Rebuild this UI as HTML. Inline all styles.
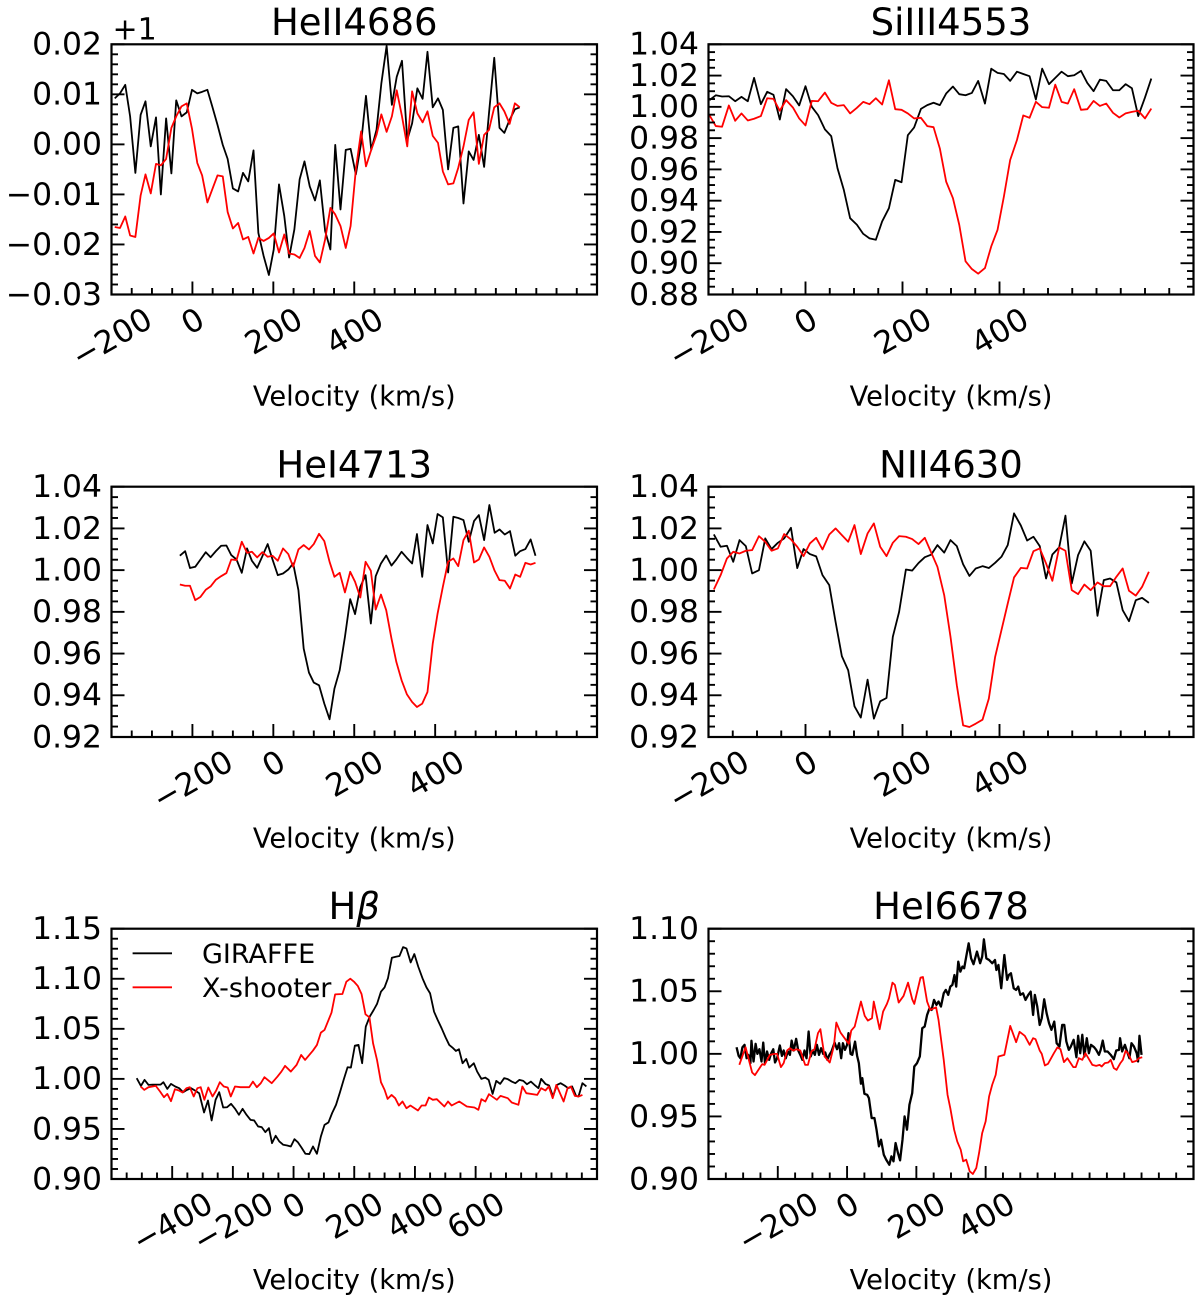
<!DOCTYPE html>
<html lang="en">
<head>
<meta charset="utf-8">
<title>Spectral line profiles</title>
<style>
html,body{margin:0;padding:0;background:#fff;}
svg{display:block;}
text{font-family:"DejaVu Sans","Liberation Sans",sans-serif;fill:#000;}
</style>
</head>
<body>
<svg id="figure" xmlns="http://www.w3.org/2000/svg" width="1200" height="1302" viewBox="0 0 1200 1302"></svg>
<script>
/* HeII 4686 : flux values are in thousandths, relative to the +1 axis offset */
const he2Velocity = [-192,-179,-166,-154,-141,-128,-116,-103,-90,-78,-65,-52,-40,-27,-14,-1,12,24,37,49,62,75,87,100,113,125,138,151,163,176,189,201,214,227,239,252,265,277,290,303,315,328,341,353,366,379,391,404,417,429,442,455,467,480,493,505,518,531,543,556,569,581,594,607,619,632,645,657,670,683,695,708,721,733,746,759,771,784,797,809];
const he2Giraffe = [9.2,10.2,11.9,5.6,-5.7,5.9,8.6,-0.4,5.4,-10.0,5.2,-5.8,8.8,5.6,6.4,10.9,10.2,10.5,10.9,7.6,3.9,-0.1,-2.9,-8.8,-9.4,-5.7,-7.4,-1.2,-17.7,-22.3,-26.1,-21.0,-8.0,-14.3,-22.6,-17.0,-7.0,-3.4,-8.4,-11.2,-7.2,-17.3,-21.0,-0.1,-13.0,-1.1,-0.9,-6.0,0.3,9.7,-1.1,2.9,12.2,19.7,7.9,13.5,16.7,0.9,4.2,11.2,9.1,18.5,7.4,9.2,6.9,-5.0,3.3,3.6,-11.8,-1.4,-3.1,1.9,-4.5,6.2,17.3,3.3,2.3,4.9,7.0,7.4];
const he2Xshooter = [-16.5,-16.7,-14.4,-18.2,-18.5,-10.2,-6.0,-9.8,-3.9,-4.2,-2.9,3.3,5.6,7.6,8.2,3.1,-3.7,-6.2,-11.6,-9.0,-6.2,-6.4,-13.5,-16.8,-15.7,-19.0,-18.5,-21.8,-18.7,-19.3,-18.7,-17.8,-21.6,-18.0,-21.8,-22.0,-22.7,-20.7,-17.3,-22.3,-23.6,-19.0,-12.7,-14.0,-16.3,-20.7,-16.3,-5.0,2.6,-4.4,-1.1,1.9,6.0,2.5,5.6,10.8,5.6,-0.4,10.6,6.2,4.4,6.6,1.7,0.3,-5.4,-8.0,-7.8,-4.7,-0.4,4.9,6.4,-3.9,1.9,2.9,7.4,8.2,6.6,4.1,8.2,7.4];
const he2YTicks = [-0.03,-0.02,-0.01,0,0.01,0.02];
const he2XTicks = [-200,0,200,400];

/* SiIII 4553 */
const si3Velocity = [-198,-185,-172,-158,-145,-132,-119,-106,-92,-79,-66,-53,-40,-26,-13,0,13,26,40,53,66,79,92,106,119,132,145,158,172,185,198,211,224,238,251,264,277,290,304,317,330,343,356,370,383,396,409,422,436,449,462,475,488,502,515,528,541,554,568,581,594,607,620,634,647,660,673,686,700,713];
const si3Giraffe = [1.0043,1.0074,1.0066,1.0068,1.0036,1.0064,1.0036,1.0185,1.0017,1.0096,1.0077,0.9919,1.0113,1.0068,1.0009,1.0132,1.0,0.9947,0.9856,0.9813,0.9607,0.9469,0.9288,0.9246,0.9188,0.9159,0.915,0.9267,0.9352,0.9533,0.9518,0.9819,0.9868,0.9987,1.0011,1.0026,1.0011,1.0085,1.013,1.0081,1.0074,1.0089,1.0166,1.0021,1.0244,1.0217,1.021,1.0166,1.0225,1.021,1.0196,1.0047,1.0244,1.0145,1.0185,1.0225,1.0196,1.0202,1.023,1.0153,1.01,1.0174,1.0166,1.0106,1.0106,1.0145,1.0119,0.9941,1.006,1.0181];
const si3Xshooter = [0.9947,0.9877,0.9873,1.0009,0.9911,0.9958,0.9913,0.9924,0.9941,1.0055,1.0051,0.9975,1.0043,0.9996,0.9926,0.9881,1.0038,1.0036,1.0091,1.0026,1.0006,1.0011,0.9958,0.9994,1.0032,1.0017,1.0055,1.0015,1.017,0.9985,0.9981,0.9958,0.9926,0.993,0.9877,0.987,0.9734,0.9522,0.9416,0.9246,0.9012,0.8963,0.8933,0.8969,0.9108,0.9214,0.9426,0.966,0.9788,0.9945,0.993,1.0032,0.9998,0.9994,1.0142,1.0032,1.0021,1.0113,0.9981,0.9985,1.0038,1.0006,1.0021,0.9962,0.9932,0.9958,0.9968,0.9975,0.9926,0.9989];
const si3YTicks = [0.88,0.90,0.92,0.94,0.96,0.98,1.00,1.02,1.04];
const si3XTicks = [-200,0,200,400];

/* HeI 4713 */
const he4713Velocity = [-231,-218,-206,-193,-180,-167,-155,-142,-129,-116,-104,-91,-78,-65,-53,-40,-27,-14,-2,11,24,37,49,62,75,88,100,113,126,139,151,164,177,190,202,215,228,241,253,266,279,292,304,317,330,343,355,368,381,394,406,419,432,445,457,470,483,496,508,521,534,547,559,572,585,598,610,623,636,648];
const he4713Giraffe = [1.0069,1.0091,1.001,1.0016,1.0051,1.0086,1.0062,1.0091,1.0117,1.0118,1.0072,1.0051,0.9987,1.0104,1.0045,1.0011,1.0067,1.0125,1.0051,0.9976,0.9984,1.0003,1.0032,0.9904,0.9624,0.9509,0.9461,0.9448,0.936,0.9285,0.9432,0.952,0.968,0.9861,0.9789,0.992,0.9976,0.9744,0.9971,1.0032,1.007,1.0022,1.0051,1.0088,1.0059,1.0032,1.0173,0.9968,1.0216,1.0128,1.0269,1.0253,0.9989,1.0256,1.025,1.024,1.0136,1.0235,1.0264,1.0144,1.0312,1.0179,1.0195,1.0171,1.0187,1.0069,1.0091,1.0101,1.0147,1.0069];
const he4713Xshooter = [0.9931,0.9925,0.9925,0.9856,0.9872,0.9906,0.9922,0.9954,0.9971,0.9986,1.0051,1.0048,1.0136,1.0083,1.0088,1.0061,1.0086,1.0064,1.0069,1.0045,1.0104,1.0077,1.0016,1.0099,1.012,1.0099,1.0125,1.0174,1.0139,1.004,0.9968,0.9987,0.9893,0.9992,0.9944,0.9869,1.004,0.9997,0.9811,0.9883,0.9808,0.9672,0.956,0.9472,0.9405,0.9368,0.9344,0.936,0.9416,0.9648,0.9792,0.992,1.004,1.0056,1.0019,1.0144,1.0189,1.0037,1.0051,1.0109,1.0064,0.9997,0.9952,0.9949,0.9912,0.9979,0.9968,1.0035,1.0027,1.0035];
const he4713YTicks = [0.92,0.94,0.96,0.98,1.00,1.02,1.04];
const he4713XTicks = [-200,0,200,400];

/* NII 4630 */
const n2Velocity = [-189,-175,-162,-149,-136,-123,-110,-96,-83,-70,-57,-44,-30,-17,-4,9,22,35,49,62,75,88,101,114,128,141,154,167,180,193,207,220,233,246,259,272,286,299,312,325,338,351,365,378,391,404,417,430,444,457,470,483,496,509,523,536,549,562,575,588,602,615,628,641,654,667,681,694,708];
const n2Giraffe = [1.0171,1.0112,1.0117,1.004,1.0144,1.0115,0.9984,1.0,1.0152,1.0101,1.0131,1.0152,1.0203,1.001,1.0101,1.0077,1.0066,0.9976,0.9928,0.9752,0.9587,0.952,0.9347,0.9293,0.9475,0.9288,0.9371,0.9387,0.968,0.98,1.0003,0.9998,1.0034,1.0062,1.0074,1.012,1.0084,1.0144,1.0115,1.0028,0.9972,1.0008,1.0019,1.0010,1.0035,1.0064,1.012,1.0272,1.0214,1.0142,1.016,1.0115,0.996,1.0075,1.0109,1.0261,0.9936,1.0072,1.0138,1.0093,0.9781,0.9952,0.996,0.9941,0.9808,0.9755,0.9856,0.9867,0.9843];
const n2Xshooter = [0.9907,0.9976,1.0056,1.0088,1.008,1.0093,1.0096,1.0163,1.0136,1.0093,1.0104,1.0173,1.0147,1.0112,1.0067,1.0128,1.0155,1.0099,1.0171,1.02,1.0168,1.0136,1.0216,1.0077,1.0176,1.0224,1.0112,1.0067,1.0131,1.0163,1.016,1.0149,1.0125,1.0155,1.0085,1.0016,0.988,0.968,0.9448,0.9256,0.9248,0.9264,0.9283,0.9384,0.9584,0.9712,0.984,0.9965,1.0011,1.0008,1.0091,1.0104,1.0032,0.9949,1.0109,1.0093,0.9904,0.9885,0.9931,0.9904,0.9941,0.9923,0.9923,0.9968,1.0008,0.9901,0.9878,0.992,0.9992];
const n2YTicks = [0.92,0.94,0.96,0.98,1.00,1.02,1.04];
const n2XTicks = [-200,0,200,400];

/* H beta */
const hbGiraffeVelocity = [-517,-503,-491,-478,-464,-450,-438,-429,-416,-404,-390,-377,-364,-351,-338,-325,-311,-295,-282,-270,-257,-245,-232,-219,-206,-192,-180,-168,-155,-142,-130,-117,-105,-93,-81,-71,-59,-47,-34,-21,-9,3,14,26,39,52,64,77,90,102,115,127,140,153,165,178,189,202,214,226,238,251,264,275,288,300,311,324,337,349,361,372,386,398,411,425,438,450,463,475,488,501,513,526,535,545,557,569,579,594,605,619,632,643,656,668,681,694,706,719,731,744,757,769,782,794,807,816,830,842,855,868,880,893,905,918,931,939,952,965];
const hbGiraffe = [1.0007,0.993,0.999,0.994,0.9943,0.9943,0.9943,0.9967,0.99,0.995,0.9924,0.9907,0.9867,0.989,0.9907,0.9884,0.9857,0.9664,0.9784,0.9585,0.9791,0.9867,0.9714,0.9717,0.9751,0.9698,0.9641,0.9701,0.9641,0.9591,0.9585,0.9525,0.9518,0.9468,0.9508,0.9358,0.9432,0.9375,0.9342,0.9335,0.9325,0.9398,0.9368,0.9315,0.9252,0.9249,0.9325,0.9252,0.9425,0.9541,0.9565,0.9658,0.9741,0.9867,0.999,1.0116,1.0113,1.0332,1.0339,1.0156,1.0522,1.0622,1.0688,1.0748,1.0871,1.0914,1.1004,1.121,1.122,1.1227,1.1316,1.1303,1.1163,1.1247,1.112,1.1004,1.0914,1.0854,1.0671,1.0588,1.0505,1.0415,1.0339,1.0306,1.0279,1.0296,1.0156,1.0199,1.0113,1.0156,1.0073,1.0,1.0013,0.999,0.985,0.998,0.995,1.0007,0.9997,0.9973,0.9957,0.999,0.998,0.9947,0.9973,0.994,0.9907,1.0,0.995,0.9934,0.9824,0.994,0.9957,0.9934,0.9907,0.9924,0.983,0.9824,0.9957,0.9924];
const hbXshooterVelocity = [-504,-492,-478,-454,-440,-427,-416,-404,-391,-378,-366,-353,-342,-329,-317,-306,-294,-281,-267,-255,-243,-230,-217,-207,-193,-175,-146,-134,-121,-108,-96,-72,-53,-40,-28,-9,10,25,38,64,77,90,102,125,137,161,174,187,199,212,224,237,250,262,275,288,300,310,323,335,347,359,372,385,410,422,435,446,459,472,497,509,521,546,571,596,609,619,632,644,670,682,706,719,741,754,767,803,816,830,841,854,866,890,903,914,927,939,952];
const hbXshooter = [0.9924,0.989,0.9917,0.993,0.9874,0.9817,0.985,0.9777,0.9897,0.9884,0.9864,0.9907,0.9917,0.9824,0.9907,0.9917,0.9791,0.9914,0.9824,0.9884,0.9967,0.9924,0.9914,0.9824,0.9924,0.9917,0.9917,0.9973,0.9917,0.9957,1.0017,0.9957,1.0023,1.0073,1.013,1.0073,1.014,1.0239,1.0189,1.0283,1.0339,1.0462,1.0489,1.0661,1.0844,1.0848,1.0971,1.1001,1.0971,1.0927,1.0848,1.0645,1.0615,1.0356,1.0189,0.9967,0.989,0.98,0.984,0.9807,0.9734,0.9774,0.9707,0.9734,0.9684,0.9734,0.9734,0.9814,0.9791,0.9797,0.9724,0.9774,0.9734,0.9774,0.9724,0.9714,0.9691,0.9797,0.9774,0.9847,0.9791,0.983,0.9807,0.9764,0.9741,0.9924,0.9857,0.984,0.9907,0.9884,0.9924,0.9807,0.994,0.9774,0.9907,0.9924,0.983,0.9824,0.984];
const hbYTicks = [0.90,0.95,1.00,1.05,1.10,1.15];
const hbXTicks = [-400,-200,0,200,400,600];

/* HeI 6678 */
const he6678GiraffeVelocity = [-319,-313,-308,-302,-296,-290,-285,-279,-276,-270,-264,-259,-253,-247,-242,-237,-231,-225,-219,-213,-208,-202,-194,-188,-183,-177,-171,-165,-160,-154,-147,-141,-135,-129,-123,-117,-111,-105,-99,-93,-87,-81,-75,-69,-63,-57,-51,-45,-36,-29,-23,-17,-12,-6,0,4,10,15,23,29,34,40,44,50,58,63,71,79,85,92,98,106,113,122,128,134,140,147,153,160,166,173,180,188,194,202,210,217,224,231,238,244,251,258,264,271,279,285,292,298,304,310,315,321,327,333,338,344,351,358,365,375,384,390,395,402,410,419,427,431,437,445,454,462,467,473,481,488,494,500,508,515,523,530,537,542,549,556,562,569,576,583,590,598,605,613,621,627,633,640,646,654,662,667,673,679,685,692,698,704,713,719,727,732,738,744,752,761,770,777,785,788,794,802,810,815,821,828,836,840,844,850];
const he6678Giraffe = [1.0053,0.9984,0.9965,1.0053,1.0072,0.9965,0.9992,0.9926,1.0104,0.9939,1.008,1.0,1.0037,0.9939,1.009,0.9926,1.0019,0.9952,1.0005,1.0037,0.9931,0.9965,1.0067,0.9984,1.0027,0.9965,1.0019,0.9992,1.0106,1.0027,1.012,1.0027,0.9992,0.9952,1.0027,0.9965,1.0178,0.9979,1.0027,0.9992,1.0072,0.9992,1.0045,1.0,1.0011,0.9952,0.9992,1.0019,1.009,1.0037,1.0085,0.9965,1.0085,1.0032,1.0072,1.0165,1.0,0.9992,1.0098,0.9984,0.9926,0.9761,0.9806,0.9681,0.9673,0.9646,0.9487,0.9487,0.9394,0.9261,0.9314,0.9194,0.9154,0.9114,0.9181,0.9141,0.9287,0.9207,0.9149,0.9314,0.95,0.9394,0.9593,0.9686,0.9899,0.9926,0.9979,1.0205,1.0218,1.0311,1.0364,1.0351,1.0431,1.0391,1.0418,1.0378,1.0484,1.0511,1.0471,1.0537,1.0551,1.063,1.0537,1.0737,1.0657,1.0697,1.0684,1.0777,1.0883,1.0763,1.0716,1.0817,1.0724,1.0777,1.0915,1.0763,1.075,1.0724,1.075,1.067,1.071,1.0524,1.079,1.0591,1.063,1.0644,1.0524,1.0511,1.0537,1.0471,1.0484,1.0431,1.0471,1.0497,1.0311,1.0471,1.0378,1.0231,1.0285,1.0436,1.0325,1.0245,1.0192,1.0258,1.0085,1.0059,1.0231,1.0231,1.0098,1.0032,1.0059,1.0112,0.9973,1.0144,1.0005,1.0152,0.9979,1.0125,1.0005,1.0072,1.0053,1.0032,0.9992,1.0032,1.0106,1.0019,1.0019,0.9992,0.9957,1.0027,1.0032,1.0125,1.0019,1.0072,1.0005,0.9965,1.0085,1.0059,1.0005,0.9939,1.0144,0.9992];
const he6678XshooterVelocity = [-311,-293,-274,-266,-245,-238,-223,-209,-202,-191,-183,-173,-165,-156,-146,-135,-121,-113,-103,-94,-84,-77,-65,-50,-38,-31,-19,-5,5,12,22,40,51,60,72,77,94,104,115,121,131,138,149,163,176,188,194,212,219,231,240,257,264,279,290,298,309,318,328,335,344,354,363,373,381,390,400,410,419,429,437,454,471,488,498,513,527,537,544,556,562,571,580,597,607,616,626,636,653,660,669,679,688,708,719,729,735,744,754,761,770,778,789,796,804,811,823,835,842,852];
const he6678Xshooter = [0.9912,1.0053,0.9851,0.983,0.9918,0.9912,0.9992,1.0,1.0,0.9894,0.9926,1.0027,1.0045,1.0027,1.0037,1.0027,0.9912,0.9912,1.0019,1.0037,1.0165,1.0197,0.9979,0.9931,1.0064,1.025,1.017,1.0117,1.008,1.0186,1.0218,1.0418,1.0303,1.0266,1.0285,1.0418,1.0197,1.0338,1.0399,1.0444,1.0569,1.0551,1.041,1.0463,1.0569,1.0436,1.0399,1.0609,1.0614,1.0418,1.0351,1.0372,1.0271,0.9952,0.9673,0.9566,0.9394,0.93,0.9234,0.9141,0.9154,0.9061,0.904,0.9088,0.9207,0.9367,0.946,0.966,0.9753,0.9832,0.9979,0.9992,1.0223,1.0093,1.0176,1.0144,1.0072,1.0125,1.0117,1.0027,1.0,0.9907,0.992,1.0005,1.0051,1.0037,0.9934,0.9965,0.9894,0.9894,0.9965,0.9952,1.0005,0.9912,0.9904,0.9912,0.9899,0.9926,0.9931,0.9952,0.9886,0.9872,0.9926,0.9952,1.0024,1.0005,0.9934,0.9944,0.9965,0.9973];
const he6678YTicks = [0.90,0.95,1.00,1.05,1.10];
const he6678XTicks = [-200,0,200,400];

const legendLabels = ['GIRAFFE','X-shooter'];
const xAxisTitle = 'Velocity (km/s)';

const NS = 'http://www.w3.org/2000/svg';
const figure = document.getElementById('figure');
const colLeft = [111.5, 708.5], colRight = [597, 1193.5];
const rowTop = [44.3, 486.7, 928.7], rowBottom = [294.5, 737, 1179];
const titleBase = [35, 477.7, 919], xlabelBase = [405.5, 847.5, 1289];
const tickFont = 31.4;

function make(tag, attrs, parent, text) {
  const el = document.createElementNS(NS, tag);
  for (const k in attrs) el.setAttribute(k, attrs[k]);
  if (text !== undefined) el.textContent = text;
  parent.appendChild(el);
  return el;
}
function fmtY(v) { return v.toFixed(2).replace('-', '\u2212'); }
function fmtX(v) { return String(v).replace('-', '\u2212'); }

function drawPanel(p) {
  const L = colLeft[p.col], R = colRight[p.col], T = rowTop[p.row], B = rowBottom[p.row];
  const xs = v => L + (v - p.xlim[0]) / (p.xlim[1] - p.xlim[0]) * (R - L);
  const ys = f => B - (f - p.ylim[0]) / (p.ylim[1] - p.ylim[0]) * (B - T);
  const g = make('g', {}, figure);
  
  

  /* series */
  p.series.forEach(s => {
    const n = Math.min(s.v.length, s.f.length);
    let d = '';
    for (let i = 0; i < n; i++) d += (i ? 'L' : 'M') + xs(s.v[i]).toFixed(2) + ' ' + ys(s.f[i] * p.unit).toFixed(2);
    const line = make('path', { d: d, fill: 'none', stroke: s.color, 'stroke-width': s.width || 1.8, 'stroke-linejoin': 'round' }, g);
    
    
  });

  /* x ticks */
  for (let v = p.xlim[0]; v <= p.xlim[1]; v += 50) {
    const major = p.xTicks.includes(v);
    const tick = make('line', { x1: xs(v), x2: xs(v), y1: B, y2: B - (major ? 13 : 6.5), stroke: '#000', 'stroke-width': 1.9 }, g);
    
    
  }
  p.xTicks.forEach(v => {
    const label = fmtX(v);
    const digits = label.replace('\u2212', '').length;
    const w = (digits * 0.636 + (v < 0 ? 0.838 : 0)) * tickFont;
    const cy = B + 11 + (w * 0.5 + 0.75 * tickFont * 0.866) / 2;
    const t = make('text', { transform: 'translate(' + xs(v) + ',' + cy + ') rotate(-30)', 'text-anchor': 'middle', dy: '0.36em', 'font-size': tickFont }, g, label);
    
    
  });

  /* y ticks */
  const ysteps = Math.round((p.ylim[1] - p.ylim[0]) / p.yMinor);
  for (let i = 0; i <= ysteps; i++) {
    const f = p.ylim[0] + i * p.yMinor;
    const major = p.yTicks.some(t => Math.abs(t - f) < p.yMinor / 4);
    const len = major ? 13 : 6.5;
    const tl = make('line', { x1: L, x2: L + len, y1: ys(f), y2: ys(f), stroke: '#000', 'stroke-width': 1.9 }, g);
    
    
    const tr = make('line', { x1: R, x2: R - len, y1: ys(f), y2: ys(f), stroke: '#000', 'stroke-width': 1.9 }, g);
    
    
  }
  p.yTicks.forEach(f => {
    const t = make('text', { x: L - 9.5, y: ys(f), dy: '0.33em', 'text-anchor': 'end', 'font-size': tickFont }, g, fmtY(f));
    
    
  });

  /* frame */
  const frame = make('rect', { x: L, y: T, width: R - L, height: B - T, fill: 'none', stroke: '#000', 'stroke-width': 2.2 }, g);
  
  

  /* title */
  const title = make('text', { x: (L + R) / 2, y: titleBase[p.row], 'text-anchor': 'middle', 'font-size': 37 }, g);
  
  
  title.appendChild(document.createTextNode(p.title));
  if (p.titleGreek) make('tspan', { 'font-style': 'italic' }, title, p.titleGreek);

  /* x label */
  const xl = make('text', { x: (L + R) / 2, y: xlabelBase[p.row], 'text-anchor': 'middle', 'font-size': 27.3 }, g, xAxisTitle);
  
  

  if (p.offsetText) {
    const off = make('text', { x: L + 1, y: T - 5, 'font-size': 30 }, g, p.offsetText);
    
    
  }
  if (p.legend) {
    const colors = p.series.map(s => s.color);
    const lineY = [953.3, 987.3], textY = [962.8, 997.2];
    legendLabels.forEach((label, i) => {
      const lg = make('line', { x1: 132.6, x2: 172, y1: lineY[i], y2: lineY[i], stroke: colors[i], 'stroke-width': 1.8 }, g);
      
      
      const lt = make('text', { x: 202, y: textY[i], 'font-size': 27 }, g, label);
      
      
    });
  }
}

drawPanel({ id: 'heii-4686', title: 'HeII4686', row: 0, col: 0, xlim: [-200, 1000], ylim: [-0.03, 0.02], unit: 0.001, yMinor: 0.002, xTicks: he2XTicks, yTicks: he2YTicks, offsetText: '+1',
  series: [{ name: 'giraffe', color: '#000', v: he2Velocity, f: he2Giraffe }, { name: 'x-shooter', color: '#f00', v: he2Velocity, f: he2Xshooter }] });
drawPanel({ id: 'siiii-4553', title: 'SiIII4553', row: 0, col: 1, xlim: [-200, 800], ylim: [0.88, 1.04], unit: 1, yMinor: 0.005, xTicks: si3XTicks, yTicks: si3YTicks,
  series: [{ name: 'giraffe', color: '#000', v: si3Velocity, f: si3Giraffe }, { name: 'x-shooter', color: '#f00', v: si3Velocity, f: si3Xshooter }] });
drawPanel({ id: 'hei-4713', title: 'HeI4713', row: 1, col: 0, xlim: [-400, 800], ylim: [0.92, 1.04], unit: 1, yMinor: 0.005, xTicks: he4713XTicks, yTicks: he4713YTicks,
  series: [{ name: 'giraffe', color: '#000', v: he4713Velocity, f: he4713Giraffe }, { name: 'x-shooter', color: '#f00', v: he4713Velocity, f: he4713Xshooter }] });
drawPanel({ id: 'nii-4630', title: 'NII4630', row: 1, col: 1, xlim: [-200, 800], ylim: [0.92, 1.04], unit: 1, yMinor: 0.005, xTicks: n2XTicks, yTicks: n2YTicks,
  series: [{ name: 'giraffe', color: '#000', v: n2Velocity, f: n2Giraffe }, { name: 'x-shooter', color: '#f00', v: n2Velocity, f: n2Xshooter }] });
drawPanel({ id: 'h-beta', title: 'H', titleGreek: '\u03B2', row: 2, col: 0, xlim: [-600, 1000], ylim: [0.90, 1.15], unit: 1, yMinor: 0.01, xTicks: hbXTicks, yTicks: hbYTicks, legend: true,
  series: [{ name: 'giraffe', color: '#000', v: hbGiraffeVelocity, f: hbGiraffe }, { name: 'x-shooter', color: '#f00', v: hbXshooterVelocity, f: hbXshooter }] });
drawPanel({ id: 'hei-6678', title: 'HeI6678', row: 2, col: 1, xlim: [-400, 1000], ylim: [0.90, 1.10], unit: 1, yMinor: 0.01, xTicks: he6678XTicks, yTicks: he6678YTicks,
  series: [{ name: 'giraffe', color: '#000', width: 2.3, v: he6678GiraffeVelocity, f: he6678Giraffe }, { name: 'x-shooter', color: '#f00', v: he6678XshooterVelocity, f: he6678Xshooter }] });
</script>
</body>
</html>
